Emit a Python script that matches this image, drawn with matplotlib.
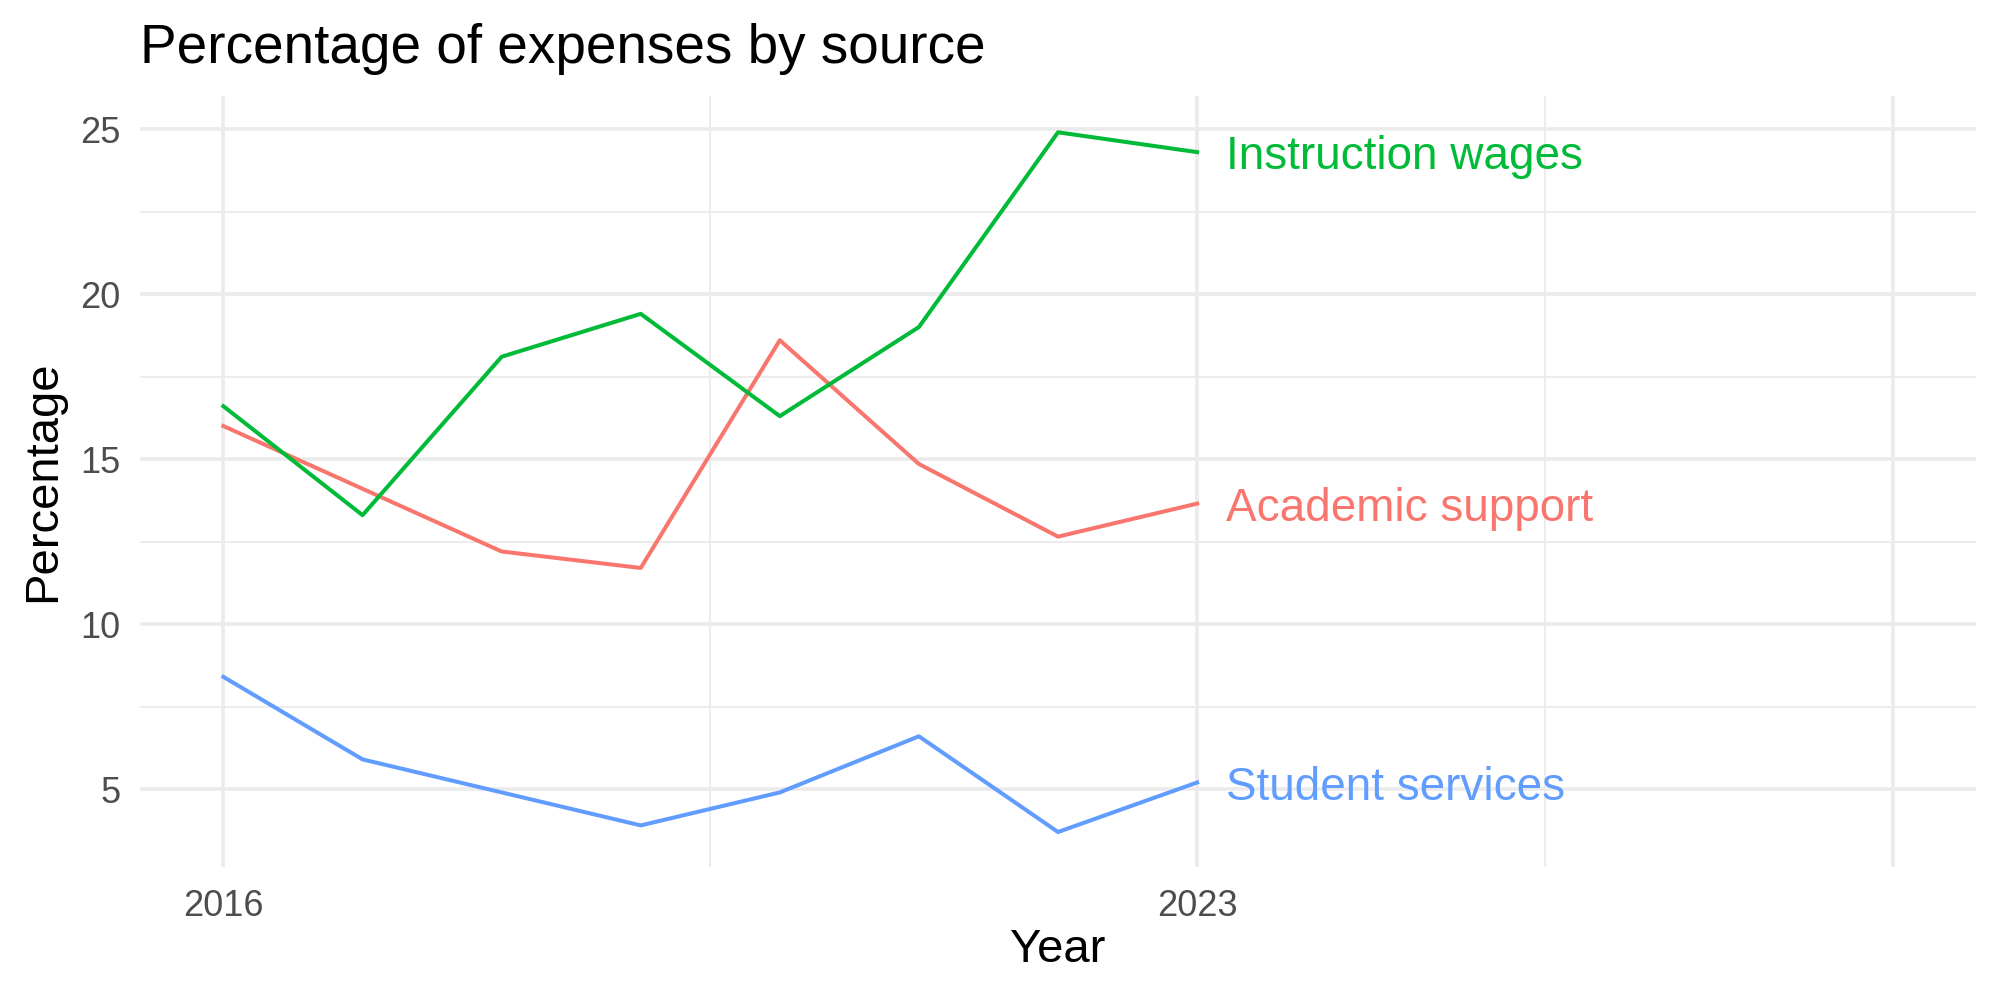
import matplotlib
matplotlib.use("Agg")
import matplotlib.pyplot as plt

years = [2016, 2017, 2018, 2019, 2020, 2021, 2022, 2023]
instruction_wages = [16.6, 13.3, 18.1, 19.4, 16.3, 19.0, 24.9, 24.3]
academic_support = [16.0, 14.1, 12.2, 11.7, 18.6, 14.85, 12.65, 13.65]
student_services = [8.4, 5.9, 4.9, 3.9, 4.9, 6.6, 3.7, 5.2]

series = [
    ("Academic support", academic_support, "#F8766D"),
    ("Instruction wages", instruction_wages, "#00BA38"),
    ("Student services", student_services, "#619CFF"),
]

plt.rcParams['font.family'] = ['Liberation Sans', 'DejaVu Sans']

fig = plt.figure(figsize=(20, 10), dpi=100)
ax = fig.add_axes([0.07, 0.133, 0.918, 0.771])

for name, vals, col in series:
    ax.plot(years, vals, color=col, lw=2.9)
    ax.text(years[-1] + 0.21, vals[-1], name, color=col, fontsize=33,
            ha='left', va='center_baseline')

ax.set_xlim(2015.4, 2028.6)
ax.set_ylim(2.64, 26.0)

ax.set_xticks([2016, 2023, 2028])
ax.set_xticklabels(['2016', '2023', ''])
ax.set_xticks([2019.5, 2025.5], minor=True)
ax.set_yticks([5, 10, 15, 20, 25])
ax.set_yticks([7.5, 12.5, 17.5, 22.5], minor=True)

ax.grid(which='major', color='#EBEBEB', lw=2.6)
ax.grid(which='minor', color='#EBEBEB', lw=1.3)
ax.set_axisbelow(True)
for s in ax.spines.values():
    s.set_visible(False)
ax.tick_params(which='both', length=0)
ax.tick_params(axis='both', labelsize=26, labelcolor='#4D4D4D')
ax.tick_params(axis='x', pad=16)
ax.tick_params(axis='y', pad=14)

ax.set_xlabel('Year', fontsize=34, va='center')
ax.xaxis.set_label_coords(0.5, -0.108)
ax.set_ylabel('Percentage', fontsize=34, va='center')
ax.yaxis.set_label_coords(-0.053, 0.5)
fig.text(0.07, 0.937, 'Percentage of expenses by source', fontsize=39.5,
         ha='left', va='baseline')

fig.savefig('out.png', dpi=100, facecolor='white')
